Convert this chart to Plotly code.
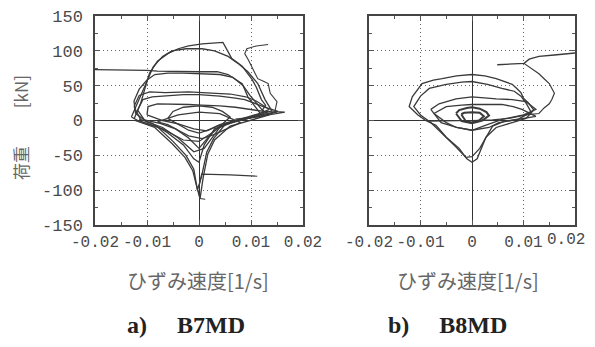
import plotly.graph_objects as go

# ---------------- data ----------------
x_tickvals = [-0.02, -0.01, 0.0, 0.01, 0.02]
x_ticktext = ["-0.02", "-0.01", "0", "0.01", "0.02"]
y_tickvals = [-150, -100, -50, 0, 50, 100, 150]
y_ticktext = ["-150", "-100", "-50", "0", "50", "100", "150"]

# B7MD curves (strain rate [1/s], load [kN])
b7_loop1_x = [-0.0125, -0.0112, -0.0104, -0.0095, -0.0080, -0.0060, -0.0040, -0.0020, 0.0006, 0.0030, 0.0046, 0.0055, 0.0063, 0.0072, 0.0083, 0.0093, 0.0102, 0.0110, 0.0120, 0.0128, 0.0122, 0.0135, 0.0110, 0.0060, 0.0030, 0.0017, 0.0008, 0.0002, -0.0004, -0.0012, -0.0027, -0.0052, -0.0085, -0.0123]
b7_loop1_y = [2, 25, 46, 68, 85, 96, 103, 107, 110, 111, 112, 100, 89, 84, 78, 68, 59, 48, 30, 22, 15, 8, 3, -8, -28, -48, -82, -112, -96, -72, -53, -33, -10, 0]

b7_loop2_x = [-0.0130, -0.0113, -0.0100, -0.0088, -0.0070, -0.0052, -0.0025, 0.0006, 0.0030, 0.0056, 0.0075, 0.0094, 0.0113, 0.0127, 0.0140, 0.0100, 0.0050, 0.0028, 0.0015, 0.0005, -0.0003, -0.0010, -0.0025, -0.0050, -0.0080, -0.0115, -0.0130]
b7_loop2_y = [5, 34, 58, 77, 92, 100, 103, 103, 100, 92, 82, 70, 53, 30, 14, 4, -6, -26, -45, -80, -100, -70, -50, -30, -9, -1, 5]

b7_flat_x = [-0.0200, -0.0150, -0.0100, -0.0080, -0.0040, 0.0000, 0.0035, 0.0056, 0.0083, 0.0094, 0.0108, 0.0120, 0.0070, 0.0030, 0.0010, 0.0000, -0.0010, -0.0030, -0.0060, -0.0090, -0.0115]
b7_flat_y = [73, 73, 72, 71, 70, 70, 70, 66, 53, 34, 20, 8, 0, -12, -35, -60, -55, -35, -18, -4, 2]

b7_loop3_x = [-0.0122, -0.0125, -0.0115, -0.0100, -0.0085, -0.0060, -0.0030, 0.0000, 0.0040, 0.0065, 0.0085, 0.0098, 0.0112, 0.0125, 0.0080, 0.0040, 0.0010, -0.0010, -0.0040, -0.0070, -0.0100, -0.0122]
b7_loop3_y = [10, 28, 45, 58, 66, 68, 68, 67, 66, 62, 50, 36, 24, 12, 2, -10, -40, -45, -25, -10, -2, 10]

b7_loop4_x = [-0.0118, -0.0108, -0.0090, -0.0060, -0.0030, 0.0000, 0.0040, 0.0070, 0.0088, 0.0110, 0.0130, 0.0152, 0.0120, 0.0080, 0.0040, 0.0020, 0.0000, -0.0020, -0.0045, -0.0075, -0.0105, -0.0118]
b7_loop4_y = [15, 30, 34, 36, 37, 37, 35, 32, 30, 24, 18, 13, 8, 2, -8, -22, -40, -25, -12, -4, 1, 15]

b7_loop5_x = [-0.0100, -0.0098, -0.0080, -0.0050, -0.0020, 0.0005, 0.0040, 0.0070, 0.0095, 0.0125, 0.0150, 0.0110, 0.0070, 0.0040, 0.0015, -0.0010, -0.0040, -0.0070, -0.0100]
b7_loop5_y = [8, 20, 24, 24, 23, 22, 21, 19, 16, 13, 12, 5, 0, -6, -15, -12, -5, 0, 8]

b7_loop6_x = [-0.0125, -0.0115, -0.0095, -0.0065, -0.0020, 0.0020, 0.0060, 0.0090, 0.0110, 0.0135, 0.0100, 0.0050, 0.0020, 0.0000, -0.0030, -0.0070, -0.0110, -0.0125]
b7_loop6_y = [20, 36, 41, 40, 41, 40, 38, 34, 28, 16, 4, -5, -20, -30, -28, -12, -2, 20]

b7_inner1_x = [-0.0060, -0.0050, -0.0030, 0.0000, 0.0025, 0.0045, 0.0060, 0.0045, 0.0020, 0.0000, -0.0020, -0.0040, -0.0060]
b7_inner1_y = [3, 13, 19, 21, 19, 13, 5, -5, -13, -18, -14, -6, 3]

b7_inner2_x = [-0.0080, -0.0060, -0.0040, -0.0020, 0.0006, 0.0030, 0.0050, 0.0080, 0.0040, 0.0000, -0.0040, -0.0080]
b7_inner2_y = [-2, -6, -14, -22, -26, -20, -13, -3, 10, 12, 8, -2]

b7_right_x = [0.0133, 0.0110, 0.0092, 0.0088, 0.0095, 0.0102, 0.0113, 0.0125, 0.0133, 0.0137, 0.0143, 0.0150, 0.0146, 0.0165, 0.0120, 0.0070]
b7_right_y = [109, 107, 103, 96, 87, 77, 60, 56, 53, 39, 33, 27, 13, 12, 6, 2]

b7_spike_x = [0.0000, 0.0005, 0.0060, 0.0112]
b7_spike_y = [-95, -77, -78, -80]

b7_tail_x = [-0.0002, 0.0002, 0.0012]
b7_tail_y = [-100, -112, -113]

# B8MD curves
b8_loop1_x = [-0.0090, -0.0105, -0.0122, -0.0116, -0.0097, -0.0075, -0.0058, -0.0030, 0.0000, 0.0025, 0.0047, 0.0065, 0.0078, 0.0087, 0.0095, 0.0100, 0.0110, 0.0120, 0.0105, 0.0078, 0.0047, 0.0027, 0.0020, 0.0010, 0.0000, -0.0010, -0.0025, -0.0050, -0.0070, -0.0090]
b8_loop1_y = [0, 8, 20, 34, 53, 58, 60, 64, 66, 64, 60, 56, 52, 46, 40, 32, 25, 15, 3, -3, -10, -24, -38, -55, -60, -55, -40, -24, -7, 0]

b8_loop2_x = [-0.0080, -0.0100, -0.0113, -0.0100, -0.0083, -0.0050, -0.0020, 0.0000, 0.0030, 0.0058, 0.0082, 0.0095, 0.0105, 0.0115, 0.0090, 0.0060, 0.0040, 0.0030, 0.0015, 0.0000, -0.0012, -0.0031, -0.0058, -0.0080]
b8_loop2_y = [-3, 8, 20, 35, 46, 52, 55, 56, 52, 46, 42, 35, 25, 12, 2, -2, -8, -20, -40, -52, -53, -38, -19, -3]

b8_top_x = [0.0049, 0.0075, 0.0101, 0.0111, 0.0130, 0.0160, 0.0202]
b8_top_y = [80, 81, 82, 88, 92, 94, 97]

b8_branch_x = [0.0101, 0.0110, 0.0120, 0.0130, 0.0140, 0.0150, 0.0160, 0.0155, 0.0150, 0.0140, 0.0130, 0.0105, 0.0072, 0.0040, 0.0000, -0.0040, -0.0085]
b8_branch_y = [82, 77, 72, 67, 60, 53, 39, 30, 24, 18, 10, 8, 3, 1, 0, 0, -1]

b8_loop3_x = [-0.0080, -0.0064, -0.0031, 0.0000, 0.0047, 0.0078, 0.0105, 0.0124, 0.0100, 0.0060, 0.0030, 0.0000, -0.0030, -0.0060, -0.0080]
b8_loop3_y = [16, 24, 31, 34, 31, 30, 27, 16, 8, 2, -6, -14, -10, -3, 16]

b8_loop4_x = [-0.0074, -0.0050, -0.0020, 0.0000, 0.0030, 0.0058, 0.0080, 0.0097, 0.0124, 0.0090, 0.0052, 0.0033, 0.0000, -0.0030, -0.0050, -0.0074]
b8_loop4_y = [10, 20, 22, 23, 23, 23, 20, 16, 6, 2, -3, -10, -14, -10, -3, 10]

b8_inner1_x = [-0.0031, -0.0025, -0.0010, 0.0000, 0.0015, 0.0028, 0.0033, 0.0020, 0.0000, -0.0020, -0.0031]
b8_inner1_y = [10, 15, 18, 19, 17, 12, 7, 0, -4, -1, 10]

b8_inner2_x = [-0.0021, -0.0015, 0.0000, 0.0015, 0.0023, 0.0012, 0.0000, -0.0012, -0.0021]
b8_inner2_y = [9, 11, 12, 11, 6, -1, -3, -1, 9]

x_title = "ひずみ速度[1/s]"
y_title = "荷重　　 [kN]"
captions = ["a)　 B7MD", "b)　 B8MD"]

# ---------------- figure ----------------
# The page body has an 8px default margin on every side, so the figure is made
# 16px smaller (no page overflow) and page-pixel positions are shifted by 8px.
OFF = 8
W, H = 595 - 2 * OFF, 347 - 2 * OFF
LINE = "#3a3a3a"

def px_x(p):
    return (p - OFF) / W

def px_y(p):
    return 1 - (p - OFF) / H

fig = go.Figure()

b7_curves = [
    (b7_loop1_x, b7_loop1_y, 1.3), (b7_loop2_x, b7_loop2_y, 1.3),
    (b7_flat_x, b7_flat_y, 1.3), (b7_loop3_x, b7_loop3_y, 1.3),
    (b7_loop4_x, b7_loop4_y, 1.3), (b7_loop5_x, b7_loop5_y, 1.3),
    (b7_loop6_x, b7_loop6_y, 1.2),
    (b7_inner1_x, b7_inner1_y, 1.3), (b7_inner2_x, b7_inner2_y, 1.3),
    (b7_right_x, b7_right_y, 1.1), (b7_spike_x, b7_spike_y, 1.1),
    (b7_tail_x, b7_tail_y, 1.1),
]
b8_curves = [
    (b8_loop1_x, b8_loop1_y, 1.3), (b8_loop2_x, b8_loop2_y, 1.3),
    (b8_top_x, b8_top_y, 1.3), (b8_branch_x, b8_branch_y, 1.2),
    (b8_loop3_x, b8_loop3_y, 1.3), (b8_loop4_x, b8_loop4_y, 1.3),
    (b8_inner1_x, b8_inner1_y, 2.0), (b8_inner2_x, b8_inner2_y, 2.0),
]

for xs, ys, w in b7_curves:
    fig.add_trace(go.Scatter(x=xs, y=ys, mode="lines", line=dict(color=LINE, width=w),
                             xaxis="x", yaxis="y", showlegend=False, hoverinfo="skip"))
for xs, ys, w in b8_curves:
    fig.add_trace(go.Scatter(x=xs, y=ys, mode="lines", line=dict(color=LINE, width=w),
                             xaxis="x2", yaxis="y2", showlegend=False, hoverinfo="skip"))

tick_font = dict(family="Liberation Mono", size=17, color="#4a4a4a")
xtick_font = dict(family="Liberation Mono", size=16, color="#4a4a4a")

def xax(domain, anchor, ticktext):
    return dict(domain=domain, anchor=anchor, range=[-0.02, 0.02], automargin=False,
                tickmode="array", tickvals=x_tickvals, ticktext=ticktext, tickangle=0,
                ticklabeloverflow="allow",
                ticks="inside", ticklen=5, tickcolor="#555", tickfont=xtick_font,
                minor=dict(ticks="inside", ticklen=3, dtick=0.005, tick0=0, tickcolor="#555", showgrid=False),
                showgrid=True, griddash="1px,3px", gridcolor="#666", gridwidth=1,
                zeroline=True, zerolinecolor="#333", zerolinewidth=1.3,
                showline=True, mirror="ticks", linecolor="#444", linewidth=1.5,
                ticklabelstandoff=1, fixedrange=True)

def yax(domain, anchor, labels):
    return dict(domain=domain, anchor=anchor, range=[-150, 150], automargin=False,
                tickmode="array", tickvals=y_tickvals, ticktext=y_ticktext,
                showticklabels=labels, ticklabeloverflow="allow",
                ticks="inside", ticklen=5, tickcolor="#555", tickfont=tick_font,
                minor=dict(ticks="inside", ticklen=3, dtick=25, tick0=0, tickcolor="#555", showgrid=False),
                showgrid=True, griddash="1px,3px", gridcolor="#666", gridwidth=1,
                zeroline=True, zerolinecolor="#333", zerolinewidth=1.3,
                showline=True, mirror="ticks", linecolor="#444", linewidth=1.5,
                ticklabelstandoff=7, fixedrange=True)

# right panel: its last label would run past the page edge, so it is drawn as
# a right-anchored annotation instead
right_ticktext = x_ticktext[:-1] + [""]

ydom = [px_y(225), px_y(16)]
fig.update_layout(
    width=W, height=H, margin=dict(l=0, r=0, t=0, b=0, autoexpand=False),
    paper_bgcolor="white", plot_bgcolor="white",
    xaxis=xax([px_x(95), px_x(303)], "y", x_ticktext),
    yaxis=yax(ydom, "x", True),
    xaxis2=xax([px_x(369), px_x(575)], "y2", right_ticktext),
    yaxis2=yax(ydom, "x2", False),
)

fig.add_annotation(text=x_ticktext[-1], x=1.0, y=px_y(240), xref="paper", yref="paper",
                   showarrow=False, font=xtick_font, xanchor="right", yanchor="middle")

title_font = dict(family="Noto Sans CJK JP", size=20, color="#666")
fig.add_annotation(text=x_title, x=px_x(198), y=px_y(280), xref="paper", yref="paper",
                   showarrow=False, font=title_font, xanchor="center", yanchor="middle")
fig.add_annotation(text=x_title, x=px_x(468), y=px_y(280), xref="paper", yref="paper",
                   showarrow=False, font=title_font, xanchor="center", yanchor="middle")
fig.add_annotation(text=y_title, x=px_x(20), y=px_y(128), xref="paper", yref="paper",
                   showarrow=False, textangle=-90, font=dict(family="Noto Sans CJK JP", size=17, color="#666"),
                   xanchor="center", yanchor="middle")

cap_font = dict(family="Liberation Serif", size=24, color="#222", weight="bold")
fig.add_annotation(text=captions[0], x=px_x(186), y=px_y(325), xref="paper", yref="paper",
                   showarrow=False, font=cap_font, xanchor="center", yanchor="middle")
fig.add_annotation(text=captions[1], x=px_x(447), y=px_y(325), xref="paper", yref="paper",
                   showarrow=False, font=cap_font, xanchor="center", yanchor="middle")

fig.write_html("out.html")
